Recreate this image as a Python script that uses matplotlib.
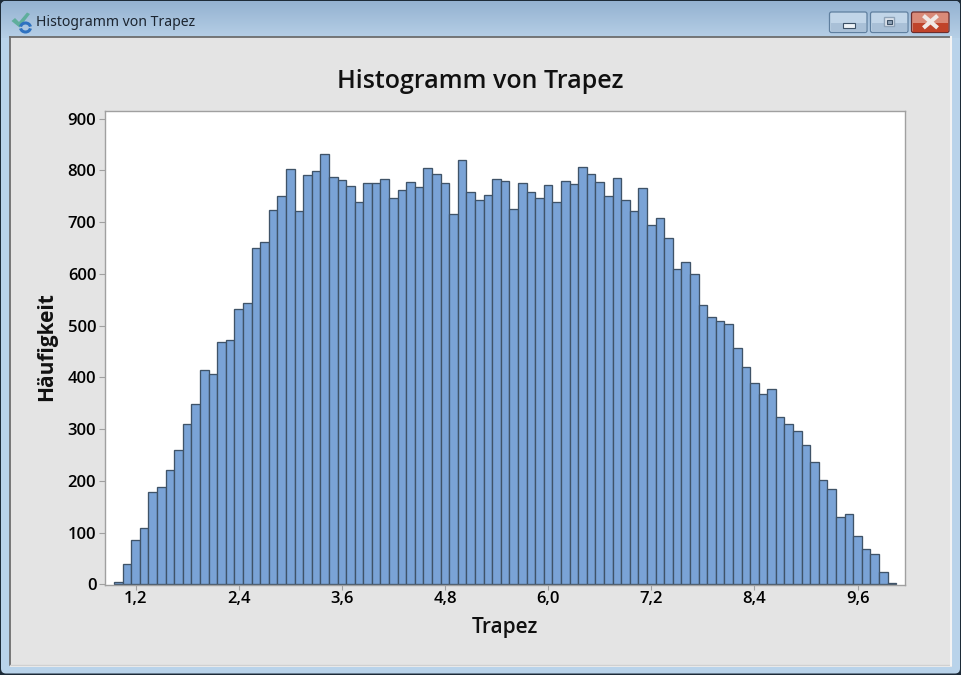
#!/usr/bin/env python3
"""
Histogramm von Trapez, im Minitab Fenster
"""

import numpy as np
import matplotlib
matplotlib.use('Agg')
import matplotlib.pyplot as plt
from matplotlib.patches import Rectangle, FancyBboxPatch, Polygon, Arc

plt.rcParams['font.family'] = ['Open Sans', 'DejaVu Sans']

bin_start = 1.0
bin_width = 0.1
counts = [5, 40, 85, 110, 179, 188, 222, 260, 310, 349,
	415, 407, 469, 473, 533, 544, 649, 662, 724, 751,
	802, 721, 791, 799, 832, 787, 781, 769, 738, 775,
	775, 784, 746, 762, 777, 767, 804, 792, 775, 715,
	819, 759, 742, 753, 784, 780, 725, 775, 758, 746,
	771, 739, 779, 773, 807, 792, 777, 750, 786, 742,
	721, 765, 694, 707, 669, 609, 622, 600, 539, 516,
	508, 504, 456, 421, 390, 367, 378, 324, 309, 296,
	270, 236, 201, 184, 130, 137, 94, 69, 58, 24, 3]
x_ticks = [1.2, 2.4, 3.6, 4.8, 6.0, 7.2, 8.4, 9.6]
x_labels = ['1,2', '2,4', '3,6', '4,8', '6,0', '7,2', '8,4', '9,6']
y_ticks = [0, 100, 200, 300, 400, 500, 600, 700, 800, 900]

W, H = 961, 675


def draw_button(ax, x, w, top_col, bottom_col):
	ax.add_patch(FancyBboxPatch((x, 12), w, 20.5, boxstyle='round,pad=0,rounding_size=2',
		fc=top_col, ec='#5f7f9f', lw=0.9, zorder=3))
	ax.add_patch(Rectangle((x+1, 22.5), w-2, 9.5, fc=bottom_col, ec='none', zorder=3))


def draw_window(ax):
	# fensterrahmen, oben dunkler als unten
	ax.add_patch(Rectangle((0, 0), W, H, fc='#1d2b38', ec='none'))
	frame = FancyBboxPatch((1, 1), W-2, H-2.5, boxstyle='round,pad=0,rounding_size=5',
		fc='#b9d3ea', ec='none')
	ax.add_patch(frame)
	grad = np.linspace(0, 1, 64).reshape(-1, 1)
	im = ax.imshow(grad, extent=(1, W-1, 38, 1), aspect='auto', zorder=1,
		cmap=matplotlib.colors.LinearSegmentedColormap.from_list('bar', ['#94b2d1', '#b6cfe6']))
	im.set_clip_path(frame)
	ax.set_xlim(0, W)
	ax.set_ylim(H, 0)

	# innenflaeche
	ax.add_patch(Rectangle((9.5, 36.5), 942, 630, fc='#f0f0f0', ec='none', zorder=2))
	ax.add_patch(Rectangle((10, 37), 941, 628, fc='#e4e4e4', ec='none', zorder=2))
	ax.plot([10, 10], [37, 665], color='#6d6d6d', lw=1.3, zorder=2)
	ax.plot([10, 951], [37.3, 37.3], color='#6d6d6d', lw=1.3, zorder=2)
	ax.plot([10, 951], [664.5, 664.5], color='#d0d0d0', lw=1, zorder=2)
	ax.plot([950.5, 950.5], [37, 665], color='#f4f4f4', lw=1.5, zorder=2)

	# icon
	ax.add_patch(Polygon([(11.5, 21), (15, 18), (19, 22), (27, 12.5), (30, 14), (19.5, 27.5)],
		fc='#5fae9c', ec='none', zorder=3))
	ax.add_patch(Arc((25.5, 27.5), 10, 9, theta1=190, theta2=350, ec='#2f72c0', lw=2.2, zorder=4))
	ax.add_patch(Arc((25.5, 27.5), 10, 9, theta1=10, theta2=170, ec='#2f72c0', lw=2.2, zorder=4))

	ax.text(35.5, 23, 'Histogramm von Trapez', fontsize=10.1, color='#1c2530',
		family=['Noto Sans', 'DejaVu Sans'], va='center', ha='left', zorder=4)

	# buttons
	draw_button(ax, 829.5, 37.5, '#c1d5e8', '#a9c0d7')
	draw_button(ax, 870.5, 37.5, '#c1d5e8', '#a9c0d7')
	ax.add_patch(FancyBboxPatch((911.5, 12), 37.5, 20.5, boxstyle='round,pad=0,rounding_size=2',
		fc='#d98a78', ec='#6b2e2e', lw=0.9, zorder=3))
	ax.add_patch(Rectangle((912.5, 22.5), 35.5, 9.5, fc='#c0432a', ec='none', zorder=3))
	ax.add_patch(Rectangle((842.5, 23), 12, 4.5, fc='#eef3f8', ec='#3d5166', lw=0.8, zorder=4))
	ax.add_patch(Rectangle((884, 17), 10, 9, fc='#dfe6ee', ec='#8fa3b8', lw=1, zorder=4))
	ax.add_patch(Rectangle((886.5, 19.5), 5, 4, fc='#8fa3b8', ec='#3d5166', lw=0.8, zorder=5))
	ax.plot([925, 936], [17, 26.5], color='#f0e8e6', lw=3, zorder=4)
	ax.plot([925, 936], [26.5, 17], color='#f0e8e6', lw=3, zorder=4)
	ax.axis('off')


if __name__=="__main__":
	fig = plt.figure(figsize=(W/100, H/100), dpi=100)

	bg = fig.add_axes([0, 0, 1, 1], zorder=0)
	draw_window(bg)

	# plotflaeche in pixeln
	ax = fig.add_axes([105/W, 1-585/H, 800/W, 474/H], zorder=1)
	centers = bin_start + bin_width*np.arange(len(counts))
	ax.bar(centers, counts, width=bin_width, color='#7aa3d6', edgecolor='#3f5368', linewidth=0.95)

	ax.set_xlim(0.845, 10.152)
	ax.set_ylim(-1, 914.5)
	ax.set_xticks(x_ticks)
	ax.set_xticklabels(x_labels)
	ax.set_yticks(y_ticks)
	ax.tick_params(axis='both', color='#a0a0a0', width=0.8, labelsize=12, labelcolor='black')
	ax.tick_params(axis='x', length=3.6, pad=1)
	ax.tick_params(axis='y', length=4.3, pad=2)
	for lab in ax.get_xticklabels()+ax.get_yticklabels():
		lab.set_fontweight('semibold')
	for s in ax.spines.values():
		s.set_color('#a0a0a0')
		s.set_linewidth(1)

	fig.text(480.5/W, 1-81.5/H, 'Histogramm von Trapez', fontsize=18, fontweight='semibold',
		color='#111111', ha='center', va='center')
	fig.text(505/W, 1-627.5/H, 'Trapez', fontsize=15, fontweight='semibold',
		color='#111111', ha='center', va='center')
	fig.text(46.5/W, 1-346.5/H, 'Häufigkeit', fontsize=15, fontweight='bold',
		color='#111111', ha='center', va='center', rotation=90)

	plt.savefig('out.png', dpi=100)
	plt.close()
